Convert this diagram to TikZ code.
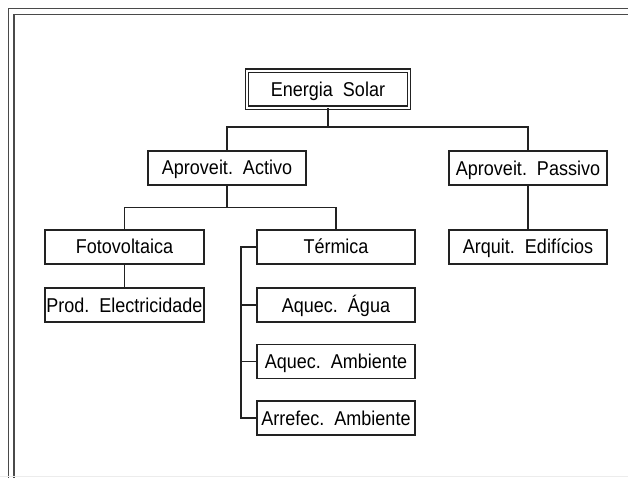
\documentclass[tikz,border=0pt]{standalone}
\usepackage{fontspec}
\setmainfont[FakeStretch=0.9]{Liberation Sans}
\usepackage{tikz}
\definecolor{ink}{HTML}{222222}
\definecolor{frame}{HTML}{4A4A4A}
\tikzset{
  box/.style={draw=ink, line width=1.6pt, minimum width=158.5pt, minimum height=34pt,
    inner sep=0pt, text height=14pt, text depth=0pt, text=black,
    font=\fontsize{20}{23}\selectfont},
  root/.style={box, line width=1.3pt, double=white, double distance=2pt,
    minimum width=162pt, minimum height=37pt},
  con/.style={draw=ink, line width=1.6pt},
  edge/.style={draw=frame, line width=1.6pt}
}
\begin{document}
\begin{tikzpicture}[x=1pt, y=-1pt]
\useasboundingbox (0,0) rectangle (628,477);
% page frame
\draw[edge] (8.5,480) -- (8.5,8.5) -- (632,8.5);
\draw[edge] (13.8,480) -- (13.8,14.3) -- (632,14.3);
\draw[gray!15, line width=1pt] (0,476.5) -- (628,476.5);

\node[root] (sol) at (328,89) {Energia~~Solar};
\node[box] (act) at (227,167.8) {Aproveit.~~Activo};
\node[box] (pas) at (528,168) {Aproveit.~~Passivo};
\node[box] (fot) at (124.5,246.7) {Fotovoltaica};
\node[box] (pro) at (124.5,305) {Prod.~~Electricidade};
\node[box] (ter) at (336,246.7) {Térmica};
\node[box] (agu) at (336,305) {Aquec.~~Água};
\node[box] (amb) at (336,361.3) {Aquec.~~Ambiente};
\node[box] (arr) at (336,418.2) {Arrefec.~~Ambiente};
\node[box] (arq) at (528,246.7) {Arquit.~~Edifícios};

% tree
\draw[con] (sol.south) -- ++(0,18.7) coordinate (j1);
\draw[con] (act.north) |- (j1) -| (pas.north);
\draw[con] (act.south) -- ++(0,22) coordinate (j2);
\draw[con] (fot.north) |- (j2) -| (ter.north);
\draw[con] (fot.south) -- (pro.north);
\draw[con] (pas.south) -- (arq.north);

% bracket
\draw[con] (ter.west) -- ++(-15,0) coordinate (br) |- (arr.west);
\draw[con] (agu.west) -- (agu.west -| br);
\draw[con] (amb.west) -- (amb.west -| br);
\end{tikzpicture}
\end{document}
